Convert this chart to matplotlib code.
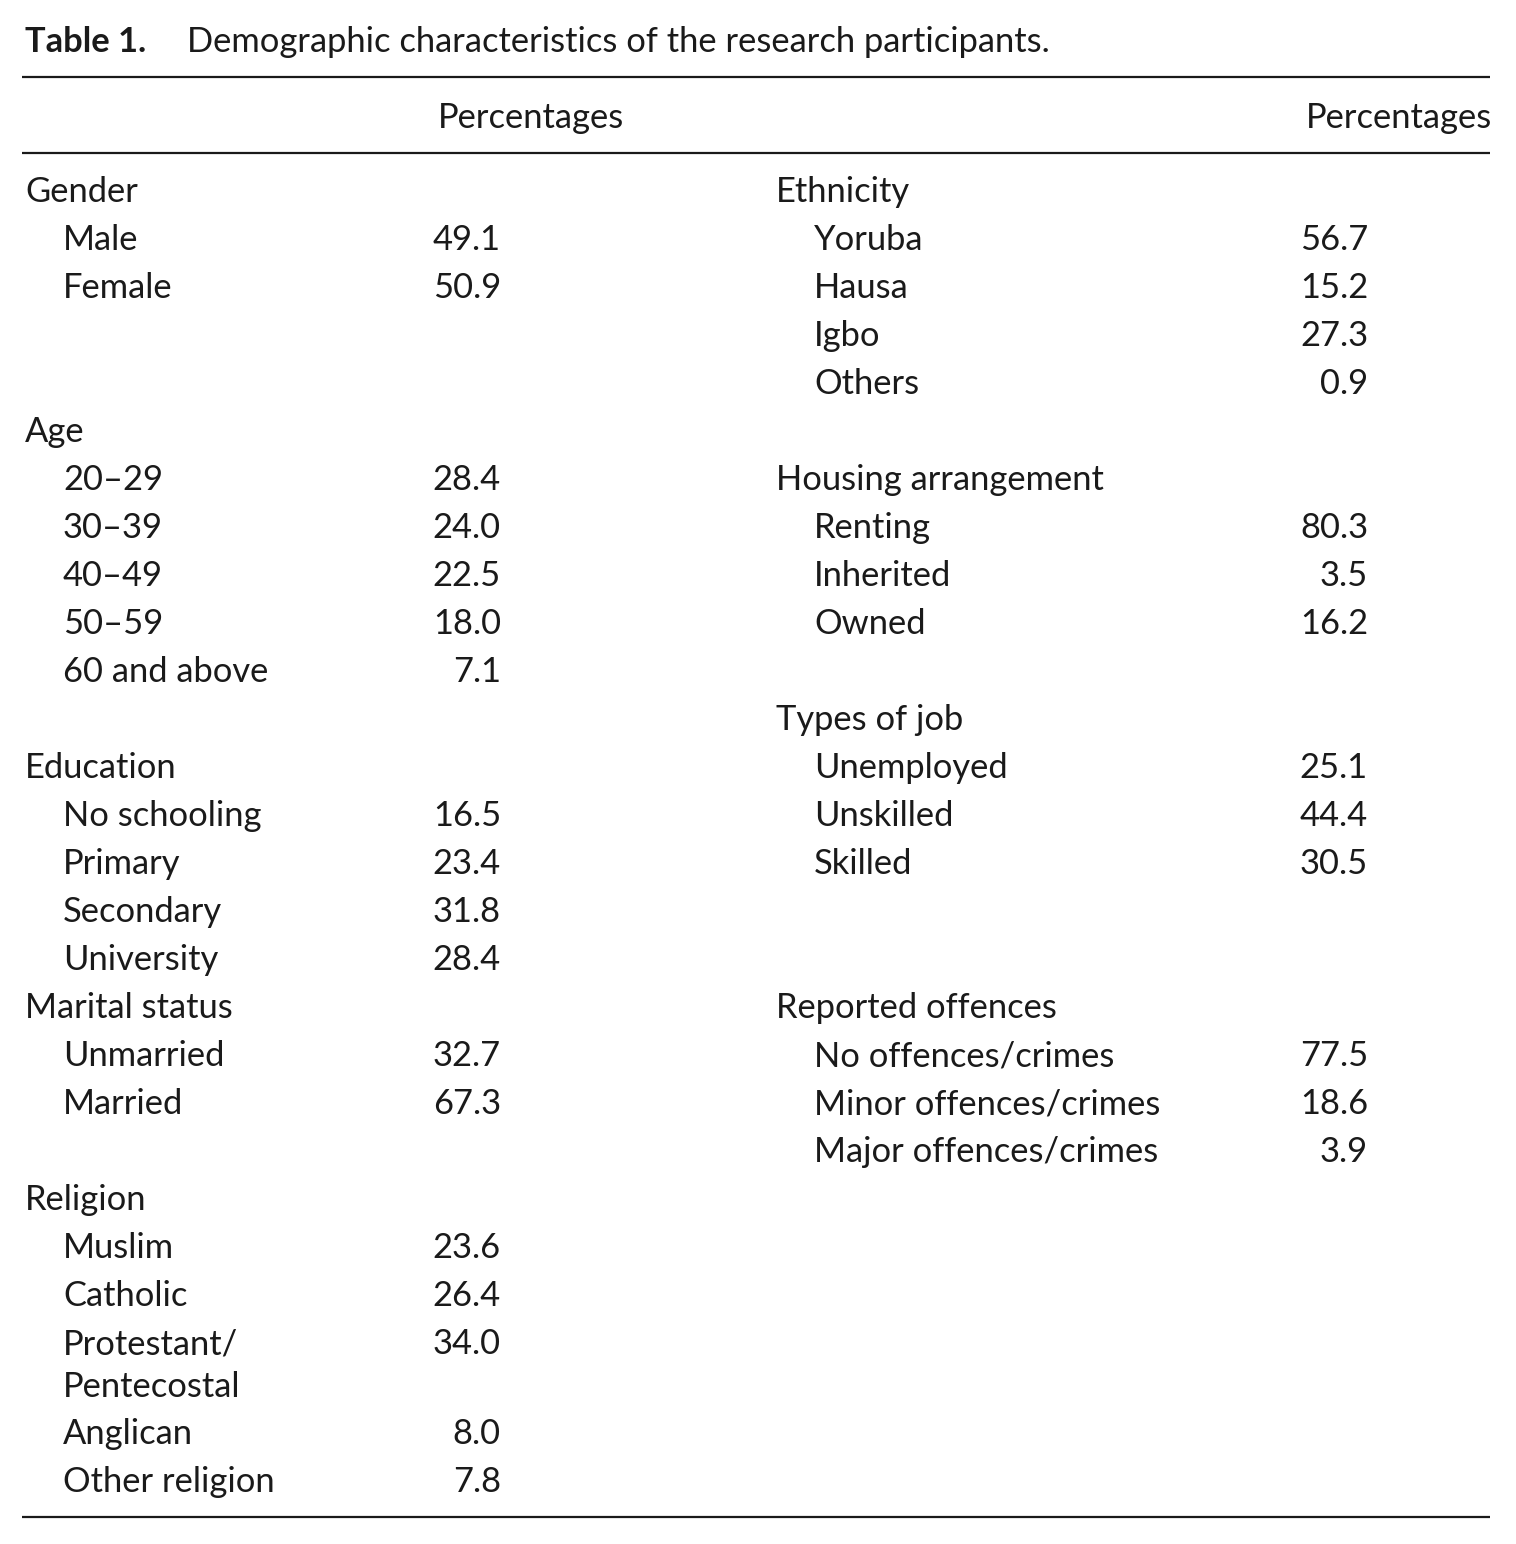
import matplotlib
matplotlib.use("Agg")
import matplotlib.pyplot as plt

plt.rcParams['font.family'] = ['Lato', 'DejaVu Sans']

# ---- table values ----
gender_labels = ["Male", "Female"]
gender_pct = [49.1, 50.9]
age_labels = ["20–29", "30–39", "40–49", "50–59", "60 and above"]
age_pct = [28.4, 24.0, 22.5, 18.0, 7.1]
edu_labels = ["No schooling", "Primary", "Secondary", "University"]
edu_pct = [16.5, 23.4, 31.8, 28.4]
marital_labels = ["Unmarried", "Married"]
marital_pct = [32.7, 67.3]
religion_labels = ["Muslim", "Catholic", "Protestant/\nPentecostal", "Anglican", "Other religion"]
religion_pct = [23.6, 26.4, 34.0, 8.0, 7.8]

ethnic_labels = ["Yoruba", "Hausa", "Igbo", "Others"]
ethnic_pct = [56.7, 15.2, 27.3, 0.9]
housing_labels = ["Renting", "Inherited", "Owned"]
housing_pct = [80.3, 3.5, 16.2]
job_labels = ["Unemployed", "Unskilled", "Skilled"]
job_pct = [25.1, 44.4, 30.5]
offence_labels = ["No offences/crimes", "Minor offences/crimes", "Major offences/crimes"]
offence_pct = [77.5, 18.6, 3.9]

left_groups = [("Gender", gender_labels, gender_pct, 0),
               ("Age", age_labels, age_pct, 5),
               ("Education", edu_labels, edu_pct, 12),
               ("Marital status", marital_labels, marital_pct, 17),
               ("Religion", religion_labels, religion_pct, 21)]
right_groups = [("Ethnicity", ethnic_labels, ethnic_pct, 0),
                ("Housing arrangement", housing_labels, housing_pct, 6),
                ("Types of job", job_labels, job_pct, 11),
                ("Reported offences", offence_labels, offence_pct, 17)]

W, H = 1516, 1544
fig = plt.figure(figsize=(W / 100, H / 100), dpi=100)
ax = fig.add_axes([0, 0, 1, 1])
ax.set_xlim(0, W)
ax.set_ylim(H, 0)
ax.axis('off')

fs = 24.8
col = '#1a1a1a'
step = 48
first = 202

# title
ax.text(25, 52, "Table 1.", fontsize=fs, fontweight='bold', color=col, va='baseline')
ax.text(187, 52, "Demographic characteristics of the research participants.",
        fontsize=fs, color=col, va='baseline')

# rules
for y in [77, 153, 1517]:
    ax.plot([22, 1490], [y, y], color=col, lw=1.6, solid_capstyle='butt')

# headers
ax.text(438, 128, "Percentages", fontsize=fs, color=col, va='baseline')
ax.text(1306, 128, "Percentages", fontsize=fs, color=col, va='baseline')


def draw_column(groups, x_head, x_item, x_num):
    for name, labels, vals, row in groups:
        y = first + step * row
        ax.text(x_head, y, name, fontsize=fs, color=col, va='baseline')
        for lab, v in zip(labels, vals):
            y += step
            lines = lab.split("\n")
            for i, ln in enumerate(lines):
                ax.text(x_item, y + 43 * i, ln, fontsize=fs, color=col, va='baseline')
            ax.text(x_num, y, f"{v:.1f}", fontsize=fs, color=col, va='baseline', ha='right')
            y += 42 * (len(lines) - 1)


draw_column(left_groups, 25, 63, 501)
draw_column(right_groups, 776, 814, 1368)

fig.savefig('out.png', dpi=100, facecolor='white')
